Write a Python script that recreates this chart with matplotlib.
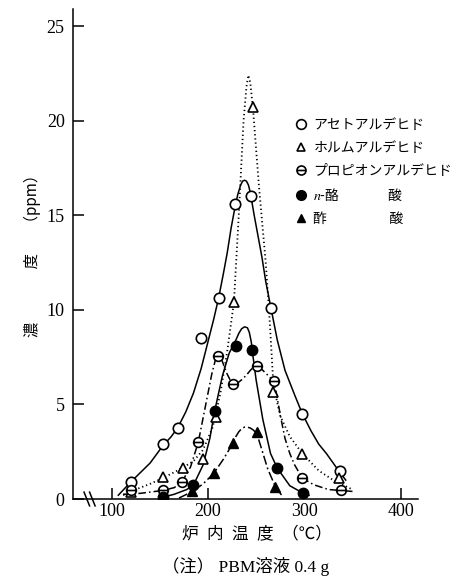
import numpy as np
import matplotlib
matplotlib.use("Agg")
from matplotlib import pyplot as plt
from matplotlib.path import Path
from matplotlib.lines import Line2D

plt.rcParams['font.family'] = ['Liberation Serif', 'Noto Sans CJK JP']
plt.rcParams['mathtext.fontset'] = 'stix'

# measured points (furnace temperature, concentration ppm)
ace_x = [120, 153, 169, 193, 211, 228, 245, 265, 298, 337]
ace_y = [0.9, 2.9, 3.75, 8.5, 10.6, 15.6, 16.0, 10.1, 4.5, 1.5]
form_x = [120, 153, 174, 195, 208, 227, 247, 268, 298, 336]
form_y = [0.35, 1.15, 1.65, 2.1, 4.35, 10.4, 20.7, 5.65, 2.4, 1.1]
prop_x = [120, 153, 173, 190, 210, 226, 251, 269, 298, 338]
prop_y = [0.45, 0.47, 0.9, 3.0, 7.56, 6.08, 7.03, 6.24, 1.1, 0.47]
but_x = [153, 185, 207, 229, 246, 272, 299]
but_y = [0.1, 0.74, 4.65, 8.1, 7.85, 1.63, 0.3]
acet_x = [184, 206, 226, 251, 270]
acet_y = [0.4, 1.35, 2.95, 3.54, 0.63]

# hand drawn curves
ace_cx = [107, 120, 130, 140, 153, 162, 169, 177, 185, 193, 200, 206, 211, 216, 220, 224, 228, 231, 234, 236, 238,
          240, 242, 244, 246, 248, 252, 256, 260, 265, 272, 280, 290, 298, 307, 315, 323, 330, 337, 343]
ace_cy = [0.2, 0.9, 1.4, 1.9, 2.8, 3.3, 3.8, 4.6, 5.6, 6.9, 8.3, 9.5, 10.6, 11.9, 13.0, 14.3, 15.4, 16.1, 16.6, 16.8, 16.85,
          16.8, 16.6, 16.2, 15.6, 15.0, 13.9, 12.8, 11.5, 10.2, 8.4, 6.8, 5.5, 4.5, 3.6, 2.9, 2.4, 1.9, 1.4, 1.0]
form_cx = [112, 120, 140, 153, 172, 185, 195, 205, 213, 220, 227, 232, 237, 240, 242, 244, 247, 250, 253, 260, 264,
           268, 275, 285, 298, 315, 330, 350]
form_cy = [0.2, 0.4, 0.8, 1.1, 1.6, 2.0, 2.6, 3.8, 5.6, 7.8, 10.4, 15.0, 20.0, 21.8, 22.4, 22.0, 20.5, 18.5, 16.5, 12.5, 9.5,
           6.0, 4.4, 3.3, 2.4, 1.5, 1.0, 0.5]
prop_cx = [112, 130, 153, 165, 173, 182, 190, 197, 204, 208, 211, 214, 217, 220, 223, 226, 230, 235, 240, 244, 248, 251,
           254, 257, 263, 269, 272, 276, 280, 285, 290, 298, 310, 325, 338, 350]
prop_cy = [0.25, 0.3, 0.45, 0.6, 0.9, 1.7, 3.0, 4.8, 6.6, 7.4, 7.6, 7.4, 7.0, 6.6, 6.3, 6.1, 6.1, 6.3, 6.55, 6.8, 7.0, 7.05,
           6.95, 6.8, 6.5, 6.2, 5.3, 4.2, 3.2, 2.4, 1.8, 1.1, 0.75, 0.5, 0.45, 0.4]
but_cx = [150, 165, 178, 185, 195, 202, 207, 215, 222, 229, 232, 235, 238, 241, 243, 245, 246, 250, 257, 265, 272, 285,
          299, 305]
but_cy = [0.05, 0.25, 0.5, 0.74, 1.8, 3.2, 4.65, 6.5, 7.7, 8.4, 8.75, 9.0, 9.1, 9.05, 8.8, 8.3, 7.85, 6.3, 4.2, 2.4,
          1.63, 0.7, 0.3, 0.2]
acet_cx = [170, 184, 195, 206, 216, 226, 229, 232, 235, 238, 241, 244, 247, 250, 252, 256, 262, 270, 278]
acet_cy = [0.05, 0.4, 0.8, 1.35, 2.1, 2.95, 3.3, 3.55, 3.72, 3.8, 3.8, 3.75, 3.65, 3.5, 3.25, 2.6, 1.6, 0.65, 0.1]

labels = ['アセトアルデヒド', 'ホルムアルデヒド', 'プロピオンアルデヒド',
          '$n$-酪\u3000\u3000\u3000\u2002酸', '酢\u3000\u3000\u3000\u3000\u2002酸']
xticks = [100, 200, 300, 400]
yticks = [0, 5, 10, 15, 20, 25]

theta = Path.make_compound_path(Path.unit_circle(), Path([(-1, 0), (1, 0)]))

fig = plt.figure(figsize=(4.63, 5.76), dpi=100)
ax = fig.add_axes([73 / 463, 1 - 499 / 576, 345 / 463, 490 / 576])
ax.set_xlim(60, 418)
ax.set_ylim(0, 25.9)

lw = 1.1
ax.plot(ace_cx, ace_cy, color='k', lw=lw, ls='-')
ax.plot(form_cx, form_cy, color='k', lw=1.3, ls=(0, (0.7, 1.6)))
ax.plot(prop_cx, prop_cy, color='k', lw=lw, ls=(0, (5, 2, 1, 2)))
ax.plot(but_cx, but_cy, color='k', lw=lw, ls='-')
ax.plot(acet_cx, acet_cy, color='k', lw=lw, ls=(0, (6, 2, 1.2, 2)))

ms = 7.5
ax.plot(ace_x, ace_y, ls='none', marker='o', ms=ms, mfc='white', mec='k', mew=1.2)
ax.plot(form_x, form_y, ls='none', marker='^', ms=6.5, mfc='white', mec='k', mew=1.2)
ax.plot(prop_x, prop_y, ls='none', marker=theta, ms=7, mfc='white', mec='k', mew=1.2)
ax.plot(but_x, but_y, ls='none', marker='o', ms=7.5, mfc='k', mec='k')
ax.plot(acet_x, acet_y, ls='none', marker='^', ms=6.5, mfc='k', mec='k')

handles = [
    Line2D([], [], ls='none', marker='o', ms=7, mfc='white', mec='k', mew=1.2),
    Line2D([], [], ls='none', marker='^', ms=6, mfc='white', mec='k', mew=1.2),
    Line2D([], [], ls='none', marker=theta, ms=6.5, mfc='white', mec='k', mew=1.2),
    Line2D([], [], ls='none', marker='o', ms=7, mfc='k', mec='k'),
    Line2D([], [], ls='none', marker='^', ms=6, mfc='k', mec='k'),
]
leg = ax.legend(handles, labels, loc='upper left', bbox_to_anchor=(294 / 463, 1 - 118 / 576),
                bbox_transform=fig.transFigure, frameon=False, borderpad=0, borderaxespad=0,
                handlelength=1.0, handletextpad=0.4, labelspacing=0.64,
                prop={'family': ['Noto Sans CJK JP'], 'size': 10})

for s in ['top', 'right']:
    ax.spines[s].set_visible(False)
for s in ['left', 'bottom']:
    ax.spines[s].set_linewidth(1.1)

ax.set_xticks(xticks)
ax.set_yticks(yticks)
ax.tick_params(direction='in', length=8, width=1.1, labelsize=13, pad=6)
ax.tick_params(axis='x', pad=3)

# axis break mark
for dx in [0.040, 0.056]:
    ax.plot([dx - 0.008, dx + 0.008], [0.014, -0.014], transform=ax.transAxes,
            color='k', lw=1.1, clip_on=False)

fig.text(257 / 463, 1 - 535 / 576, '炉\u2002内\u2002温\u2002度\u2002（℃）', ha='center', va='center',
         fontsize=12, family=['Noto Sans CJK JP'])
fig.text(246 / 463, 1 - 566 / 576, '（注） PBM溶液 0.4 g', ha='center', va='center',
         fontsize=12.5)
fig.text(32 / 463, 1 - 252 / 576, '濃\u3000\u3000\u3000\u2002度\u3000\u2002（ppm）', ha='center', va='center',
         rotation=90, fontsize=11, family=['Noto Sans CJK JP'])

plt.savefig('out.png', dpi=100)
